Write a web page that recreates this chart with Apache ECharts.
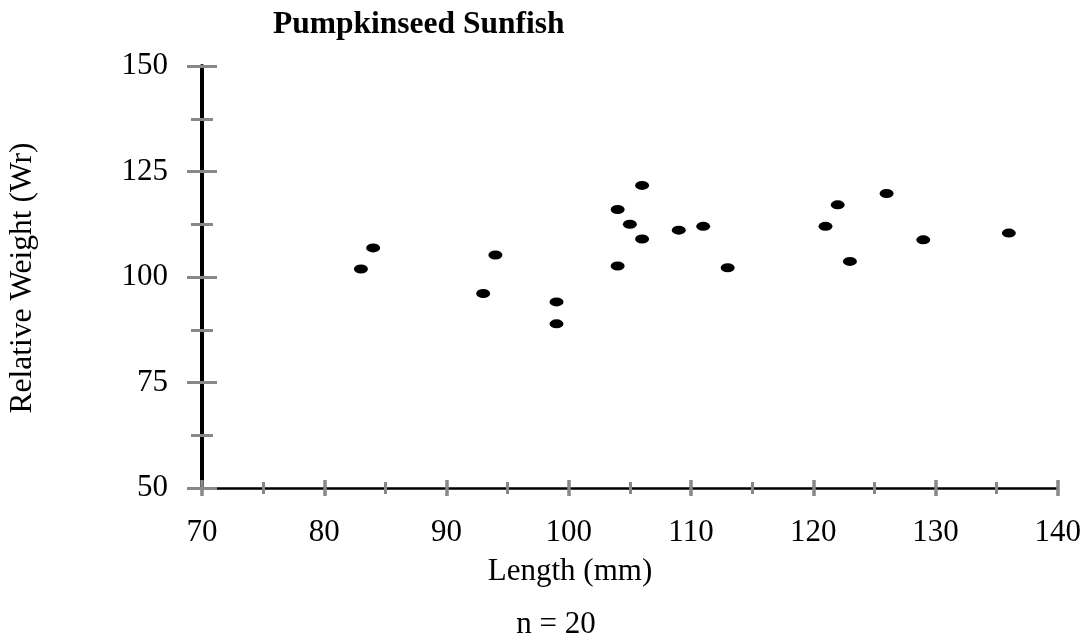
<!DOCTYPE html>
<html>
<head>
<meta charset="utf-8">
<script src="https://cdn.jsdelivr.net/npm/echarts@6/dist/echarts.min.js"></script>
<style>
  html, body { margin: 0; padding: 0; background: #fff; }
  #chart { width: 1084px; height: 642px; }
</style>
</head>
<body>
<div id="chart"></div>
<script>
// fish length (mm) and relative weight (Wr)
var lengths = [83, 84, 93, 94, 99, 99, 104, 104, 105, 106, 106, 109, 111, 113, 121, 122, 123, 126, 129, 136]
var weights = [101.9, 106.9, 96.1, 105.2, 94.1, 88.9, 116.0, 102.6, 112.5, 121.7, 109.0, 111.1, 112.0, 102.2, 112.0, 117.1, 103.7, 119.8, 108.8, 110.4]
var xRange = [70, 140, 10]
var yRange = [50, 150, 25]

var font = "'Liberation Serif', 'Times New Roman', serif"
var tickGray = '#888888'

var points = lengths.map(function (l, i) { return [l, weights[i]] })

// two axes per direction: one with outside ticks, one with inside ticks -> crossing ticks
function xAxis(inside) {
  return {
    type: 'value',
    position: 'bottom',
    min: xRange[0],
    max: xRange[1],
    interval: xRange[2],
    axisLine: { show: !inside, onZero: false, lineStyle: { color: '#000', width: 2.5 } },
    axisTick: { show: true, inside: inside, length: 8, lineStyle: { color: tickGray, width: 3.5 } },
    minorTick: { show: true, splitNumber: 2, length: 6, lineStyle: { color: tickGray, width: 3 } },
    axisLabel: { show: !inside, margin: 29, color: '#000', fontFamily: font, fontSize: 31 },
    splitLine: { show: false }
  }
}

function yAxis(inside) {
  return {
    type: 'value',
    position: 'left',
    min: yRange[0],
    max: yRange[1],
    interval: yRange[2],
    axisLine: { show: !inside, onZero: false, lineStyle: { color: '#000', width: 4 } },
    axisTick: { show: true, inside: inside, length: 15, lineStyle: { color: tickGray, width: 3 } },
    minorTick: { show: true, splitNumber: 2, length: 11, lineStyle: { color: tickGray, width: 3 } },
    axisLabel: { show: !inside, margin: 34, color: '#000', fontFamily: font, fontSize: 31 },
    splitLine: { show: false }
  }
}

var chart = echarts.init(document.getElementById('chart'), null, { renderer: 'canvas' })
chart.setOption({
  animation: false,
  backgroundColor: '#fff',
  title: {
    text: 'Pumpkinseed Sunfish',
    left: 273,
    top: 9,
    padding: 0,
    textStyle: { color: '#000', fontFamily: font, fontSize: 31.5, fontWeight: 'bold' }
  },
  grid: { left: 202, right: 24, top: 66, bottom: 154, containLabel: false },
  xAxis: [xAxis(false), xAxis(true)],
  yAxis: [yAxis(false), yAxis(true)],
  graphic: [
    {
      type: 'text', x: 570, y: 572,
      style: { text: 'Length (mm)', fill: '#000', font: '31px ' + font, align: 'center', verticalAlign: 'middle' }
    },
    {
      type: 'text', x: 556, y: 625,
      style: { text: 'n = 20', fill: '#000', font: '31px ' + font, align: 'center', verticalAlign: 'middle' }
    },
    {
      type: 'text', x: 23, y: 278, rotation: Math.PI / 2,
      style: { text: 'Relative Weight (Wr)', fill: '#000', font: '31.5px ' + font, align: 'center', verticalAlign: 'middle' }
    }
  ],
  series: [
    {
      type: 'scatter',
      xAxisIndex: 0,
      yAxisIndex: 0,
      data: points,
      symbol: 'path://M0,50A50,50,0,1,1,100,50A50,50,0,1,1,0,50Z',
      symbolSize: [14, 9],
      symbolKeepAspect: false,
      itemStyle: { color: '#000', opacity: 1 },
      z: 5
    }
  ]
})
</script>
</body>
</html>
